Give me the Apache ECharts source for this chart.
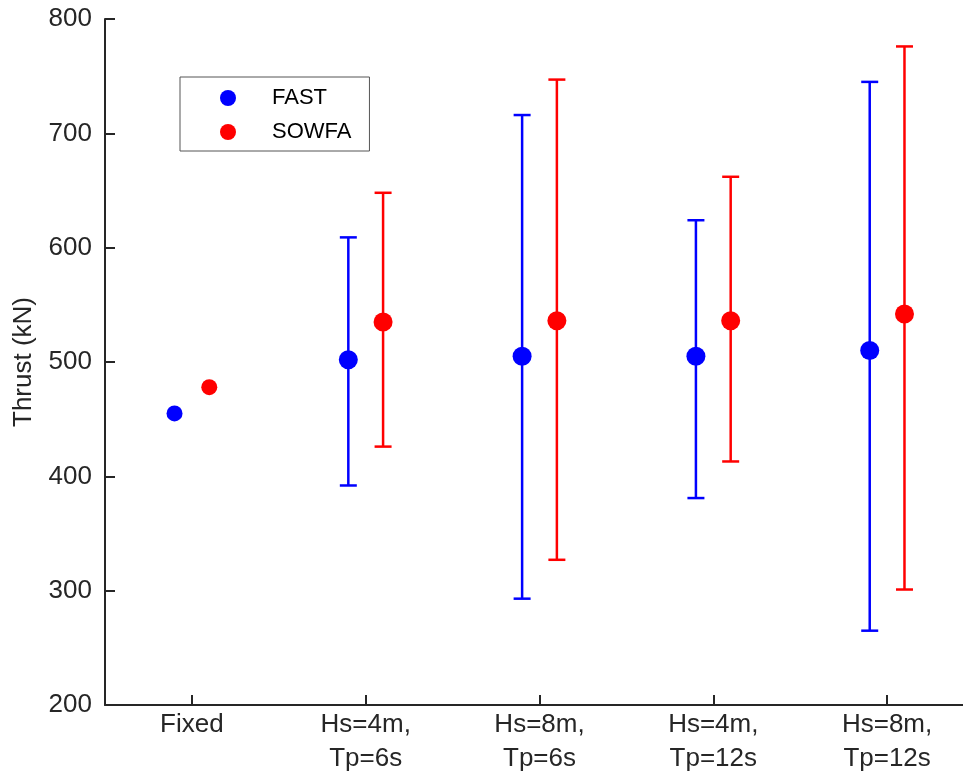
<!DOCTYPE html>
<html>
<head>
<meta charset="utf-8">
<script src="https://cdn.jsdelivr.net/npm/echarts@6/dist/echarts.min.js"></script>
<style>
    html, body { margin: 0; padding: 0; background: #fff; }
    #chart { width: 963px; height: 773px; }
</style>
</head>
<body>
<div id="chart"></div>
<script>
// categories on the x axis
var categories = ['Fixed', 'Hs=4m,\nTp=6s', 'Hs=8m,\nTp=6s', 'Hs=4m,\nTp=12s', 'Hs=8m,\nTp=12s'];

// FAST: mean and error-bar range (Fixed case has no bar)
var fastMean  = [455, 502, 505, 505, 510];
var fastLower = [null, 392, 293, 381, 265];
var fastUpper = [null, 609, 716, 624, 745];

// SOWFA: mean and error-bar range
var sowfaMean  = [478, 535, 536, 536, 542];
var sowfaLower = [null, 426, 327, 413, 301];
var sowfaUpper = [null, 648, 747, 662, 776];

var yTicks = [200, 300, 400, 500, 600, 700, 800];

var axisColor = '#262626';
var font = 'Liberation Sans, Arial, sans-serif';

function buildData(mean, lower, upper) {
    var out = [];
    for (var i = 0; i < mean.length; i++) {
        out.push([i, mean[i], lower[i], upper[i]]);
    }
    return out;
}

function errorBarRenderer(shift, color) {
    return function (params, api) {
        var cat = api.value(0);
        var band = api.size([1, 0])[0];
        var dx = band * shift;
        var mid = api.coord([cat, api.value(1)]);
        var x = mid[0] + dx;
        var children = [];
        var lo = api.value(2), hi = api.value(3);
        var isFixed = isNaN(lo) || lo === null;
        if (!isFixed) {
            var pLo = api.coord([cat, lo]);
            var pHi = api.coord([cat, hi]);
            var cap = 8.5;
            var ls = { stroke: color, lineWidth: 2.5 };
            children.push({ type: 'line', shape: { x1: x, y1: pLo[1], x2: x, y2: pHi[1] }, style: ls });
            children.push({ type: 'line', shape: { x1: x - cap, y1: pLo[1], x2: x + cap, y2: pLo[1] }, style: ls });
            children.push({ type: 'line', shape: { x1: x - cap, y1: pHi[1], x2: x + cap, y2: pHi[1] }, style: ls });
        }
        children.push({
            type: 'circle',
            shape: { cx: x, cy: mid[1], r: isFixed ? 8 : 9.5 },
            style: { fill: color }
        });
        return { type: 'group', children: children };
    };
}

var chart = echarts.init(document.getElementById('chart'));
chart.setOption({
    animation: false,
    backgroundColor: '#fff',
    grid: { left: 105, top: 19, bottom: 68, right: -11, outerBoundsMode: 'none', containLabel: false },
    legend: {
        orient: 'vertical',
        left: 180,
        top: 77,
        padding: [10, 18, 8, 40],
        itemWidth: 16,
        itemHeight: 16,
        itemGap: 12,
        icon: 'circle',
        borderColor: '#555',
        borderWidth: 1,
        textStyle: { fontFamily: font, fontSize: 22, color: '#000', lineHeight: 20, padding: [0, 0, 0, 31] },
        data: ['FAST', 'SOWFA']
    },
    xAxis: {
        type: 'category',
        data: categories,
        boundaryGap: true,
        axisLine: { lineStyle: { color: axisColor, width: 2 } },
        axisTick: { show: true, inside: true, alignWithLabel: true, length: 10, lineStyle: { color: axisColor, width: 2 } },
        axisLabel: { fontFamily: font, fontSize: 26, color: axisColor, lineHeight: 34, margin: 3, interval: 0 },
        splitLine: { show: false }
    },
    yAxis: {
        type: 'value',
        min: yTicks[0],
        max: yTicks[yTicks.length - 1],
        interval: 100,
        name: 'Thrust (kN)',
        nameLocation: 'middle',
        nameGap: 68,
        nameTextStyle: { fontFamily: font, fontSize: 26, color: axisColor },
        axisLine: { show: true, lineStyle: { color: axisColor, width: 2 } },
        axisTick: { show: true, inside: true, length: 10, lineStyle: { color: axisColor, width: 2 } },
        axisLabel: { fontFamily: font, fontSize: 26, color: axisColor, margin: 13 },
        splitLine: { show: false }
    },
    series: [
        {
            name: 'FAST',
            type: 'custom',
            itemStyle: { color: '#0000ff' },
            renderItem: errorBarRenderer(-0.1, '#0000ff'),
            encode: { x: 0, y: [1, 2, 3] },
            data: buildData(fastMean, fastLower, fastUpper)
        },
        {
            name: 'SOWFA',
            type: 'custom',
            itemStyle: { color: '#ff0000' },
            renderItem: errorBarRenderer(0.1, '#ff0000'),
            encode: { x: 0, y: [1, 2, 3] },
            data: buildData(sowfaMean, sowfaLower, sowfaUpper)
        }
    ]
});
</script>
</body>
</html>
